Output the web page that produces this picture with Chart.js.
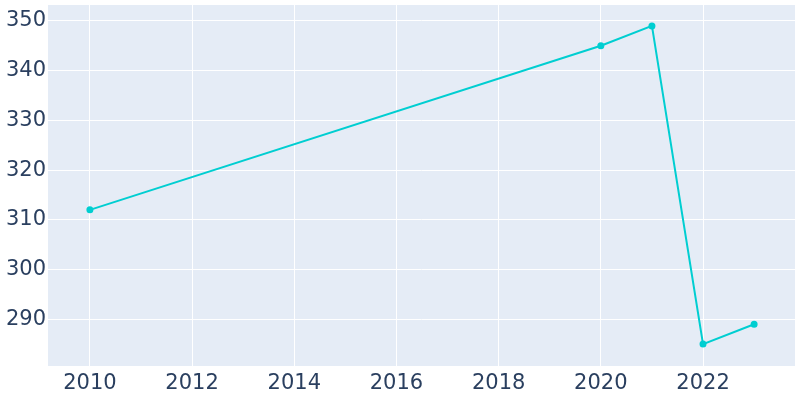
<!DOCTYPE html>
<html>
<head>
<meta charset="utf-8">
<script src="https://cdn.jsdelivr.net/npm/chart.js@4"></script>
<style>
  html, body { margin: 0; padding: 0; background: #fff; }
  #wrap { width: 800px; height: 400px; }
</style>
</head>
<body>
<div id="wrap"><canvas id="chart" width="800" height="400"></canvas></div>
<script>
// Data
var years = [2010, 2020, 2021, 2022, 2023];
var values = [312, 345, 349, 285, 289];
var xTicks = [2010, 2012, 2014, 2016, 2018, 2020, 2022];
var yTicks = [290, 300, 310, 320, 330, 340, 350];

var points = [];
for (var i = 0; i < years.length; i++) {
    points.push({ x: years[i], y: values[i] });
}

// fill plot area like plotly
var plotBg = {
    id: 'plotBg',
    beforeDraw: function(chart) {
        var a = chart.chartArea;
        var c = chart.ctx;
        c.save();
        c.fillStyle = '#E5ECF6';
        c.fillRect(a.left, a.top, a.right - a.left, a.bottom - a.top);
        c.restore();
    }
};

function fixedTicks(list) {
    return function(scale) {
        scale.ticks = list.map(function(v) { return { value: v }; });
    };
}

var tickFont = { family: 'DejaVu Sans', size: 21 };

new Chart(document.getElementById('chart'), {
    type: 'line',
    data: {
        datasets: [{
            data: points,
            borderColor: '#00CED1',
            backgroundColor: '#00CED1',
            borderWidth: 2,
            pointRadius: 2.5,
            pointHoverRadius: 3,
            tension: 0
        }]
    },
    options: {
        responsive: false,
        animation: false,
        layout: { padding: { top: 5, right: 5, left: 0, bottom: 0 } },
        plugins: { legend: { display: false }, tooltip: { enabled: false } },
        scales: {
            x: {
                type: 'linear',
                min: 2009.18,
                max: 2023.8,
                afterBuildTicks: fixedTicks(xTicks),
                afterFit: function(s) {
                    s.height = 34;
                    s.paddingLeft = 0;
                    s.paddingRight = 0;
                },
                grid: { color: '#ffffff', lineWidth: 1, drawTicks: false },
                border: { display: false },
                ticks: {
                    color: '#2a3f5f',
                    font: tickFont,
                    padding: 5,
                    maxRotation: 0,
                    callback: function(v) { return String(v); }
                }
            },
            y: {
                min: 280.6,
                max: 353.2,
                afterBuildTicks: fixedTicks(yTicks),
                afterFit: function(s) {
                    s.width = 48;
                    s.paddingTop = 0;
                    s.paddingBottom = 0;
                },
                grid: { color: '#ffffff', lineWidth: 1, drawTicks: false },
                border: { display: false },
                ticks: {
                    color: '#2a3f5f',
                    font: tickFont,
                    padding: 2,
                    callback: function(v) { return String(v); }
                }
            }
        }
    },
    plugins: [plotBg]
});
</script>
</body>
</html>
